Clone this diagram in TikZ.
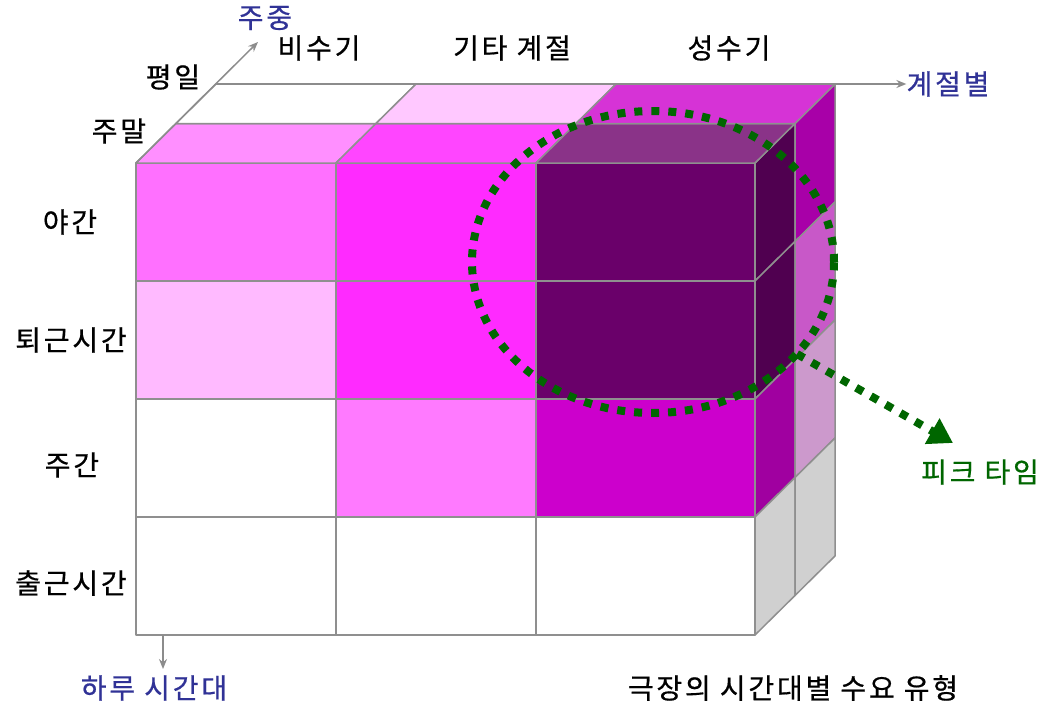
\documentclass[tikz,border=0pt]{standalone}
\usepackage{fontspec}
\newfontfamily\kr[LetterSpace=10,FakeBold=0.6]{Noto Sans CJK KR}
\usetikzlibrary{arrows.meta}
\definecolor{edgeg}{RGB}{143,143,143}
\definecolor{axisg}{RGB}{140,140,140}
\definecolor{lblue}{RGB}{48,50,150}
\definecolor{pgreen}{RGB}{0,102,0}
% front faces
\definecolor{fa0}{RGB}{255,112,255}
\definecolor{fb0}{RGB}{255,42,255}
\definecolor{fc0}{RGB}{106,0,106}
\definecolor{fa1}{RGB}{255,186,255}
\definecolor{fb1}{RGB}{255,42,255}
\definecolor{fc1}{RGB}{106,0,106}
\definecolor{fa2}{RGB}{255,255,255}
\definecolor{fb2}{RGB}{255,122,255}
\definecolor{fc2}{RGB}{204,0,204}
\definecolor{fa3}{RGB}{255,255,255}
\definecolor{fb3}{RGB}{255,255,255}
\definecolor{fc3}{RGB}{255,255,255}
% top faces
\definecolor{ta}{RGB}{255,143,255}
\definecolor{tb}{RGB}{255,69,255}
\definecolor{tc}{RGB}{138,51,136}
\definecolor{td}{RGB}{255,255,255}
\definecolor{te}{RGB}{255,200,255}
\definecolor{tf}{RGB}{214,51,214}
% right faces
\definecolor{ra0}{RGB}{80,0,80}
\definecolor{ra1}{RGB}{80,0,80}
\definecolor{ra2}{RGB}{160,0,160}
\definecolor{ra3}{RGB}{208,208,208}
\definecolor{rb0}{RGB}{168,0,168}
\definecolor{rb1}{RGB}{200,88,200}
\definecolor{rb2}{RGB}{204,153,204}
\definecolor{rb3}{RGB}{208,208,208}
\tikzset{
  face/.style={draw=edgeg, line width=1.5pt, line join=round},
  axisline/.style={draw=axisg, line width=1.5pt, -{Stealth[length=10pt,width=8pt]}},
  lbl/.style={font=\kr\fontsize{28}{32}\selectfont, text=black, inner sep=0pt},
  blbl/.style={lbl, text=lblue},
  glbl/.style={lbl, text=pgreen},
  peak/.style={draw=pgreen, line width=8pt, dash pattern=on 8pt off 9pt}
}
\begin{document}
\begin{tikzpicture}[x=1pt,y=-1pt]
\useasboundingbox (0,0) rectangle (1049,701);
% front faces
\foreach \r in {0,1,2,3}{
  \pgfmathsetmacro{\ya}{163+118*\r}
  \pgfmathsetmacro{\yb}{281+118*\r}
  \path[face, fill=fa\r] (136,\ya) rectangle (336,\yb);
  \path[face, fill=fb\r] (336,\ya) rectangle (536,\yb);
  \path[face, fill=fc\r] (536,\ya) rectangle (755,\yb);
  \path[face, fill=ra\r] (755,\ya) -- (795,\ya-39.5) -- (795,\yb-39.5) -- (755,\yb) -- cycle;
  \path[face, fill=rb\r] (795,\ya-39.5) -- (835,\ya-79) -- (835,\yb-79) -- (795,\yb-39.5) -- cycle;
}
% top faces
\path[face, fill=ta] (136,163) -- (336,163) -- (376,123.5) -- (176,123.5) -- cycle;
\path[face, fill=tb] (336,163) -- (536,163) -- (576,123.5) -- (376,123.5) -- cycle;
\path[face, fill=tc] (536,163) -- (755,163) -- (795,123.5) -- (576,123.5) -- cycle;
\path[face, fill=td] (176,123.5) -- (376,123.5) -- (416,84) -- (216,84) -- cycle;
\path[face, fill=te] (376,123.5) -- (576,123.5) -- (616,84) -- (416,84) -- cycle;
\path[face, fill=tf] (576,123.5) -- (795,123.5) -- (835,84) -- (616,84) -- cycle;

% labels
\node[blbl] (weekday) at (265,18) {주중};
\node[lbl] (c1) at (319,48) {비수기};
\node[lbl] (c2) at (512,48) {기타 계절};
\node[lbl] (c3) at (729,48) {성수기};
\node[lbl] (l1) at (173,77) {평일};
\node[lbl] (l2) at (119,131) {주말};
\node[lbl] (r1) at (70,222) {야간};
\node[lbl] (r2) at (71,340) {퇴근시간};
\node[lbl] (r3) at (72,465) {주간};
\node[lbl] (r4) at (71,583) {출근시간};
\node[blbl] (season) at (948,84) {계절별};
\node[glbl] (peakl) at (980,472) {피크 타임};
\node[blbl] (daytime) at (154,688) {하루 시간대};
\node[lbl] (title) at (793,688) {극장의 시간대별 수요 유형};

% axes
\coordinate (origin) at (136,163);
\coordinate (depthEnd) at (258,42);
\coordinate (topStart) at (216,84);
\coordinate (downStart) at (163,635);
\coordinate (downEnd) at (163,669);
\draw[axisline] (origin) -- (depthEnd);
\draw[axisline] (topStart) -- (season.west);
\draw[axisline] (downStart) -- (downEnd);

% peak time highlight
\coordinate (peakC) at (653,262);
\draw[peak] (peakC) ellipse [x radius=181pt, y radius=151pt];
\coordinate (peakS) at (797,354);
\coordinate (peakE) at (953,443);
\draw[peak, -{Triangle[length=24pt,width=28pt]}] (peakS) -- (peakE);
\end{tikzpicture}
\end{document}
